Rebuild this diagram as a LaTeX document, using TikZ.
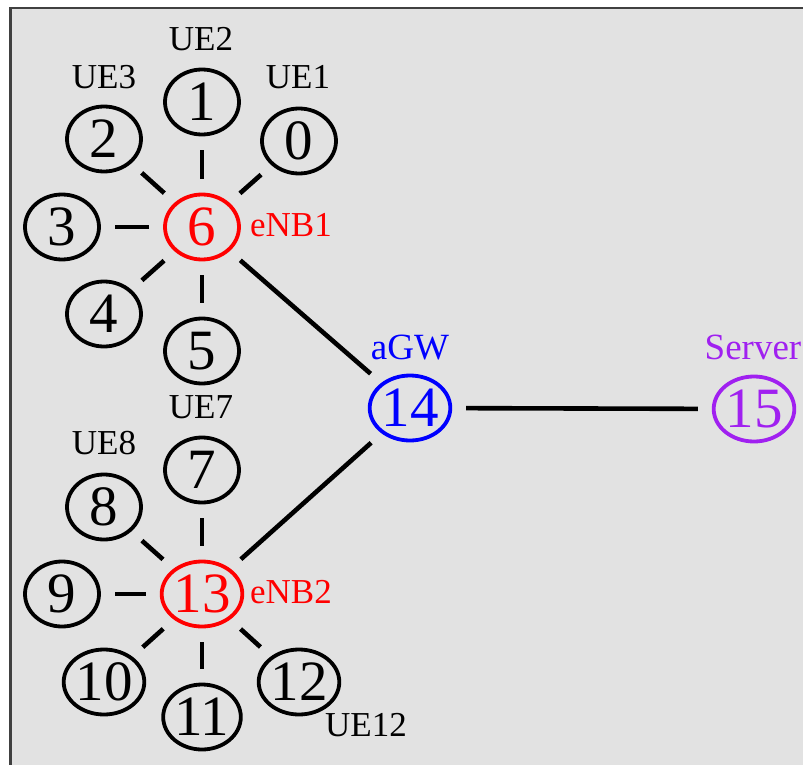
\documentclass[tikz,border=0pt]{standalone}
\usepackage{fontspec}
\setmainfont{Liberation Serif}
\usetikzlibrary{shapes.geometric}
\definecolor{bgray}{HTML}{E2E2E2}
\definecolor{framec}{HTML}{404040}
\definecolor{xpurple}{HTML}{A020F0}
\tikzset{
  nd/.style={ellipse, draw, line width=1.9pt, minimum width=37pt, minimum height=32.5pt,
    inner sep=0pt, font=\fontsize{28.5}{30}\selectfont},
  ue/.style={nd, draw=black, text=black},
  enb/.style={nd, draw=red, text=red},
  gw/.style={nd, draw=blue, text=blue},
  srv/.style={nd, draw=xpurple, text=xpurple},
  lbl/.style={inner sep=0pt, font=\fontsize{17.5}{19}\selectfont},
  wlbl/.style={inner sep=0pt, font=\fontsize{18.5}{20}\selectfont},
  lnk/.style={line width=2.3pt, shorten >=7pt, shorten <=7pt},
}
\begin{document}
\begin{tikzpicture}[x=0.5pt, y=-0.5pt]
\useasboundingbox (0,0) rectangle (803,765);
\fill[white] (0,0) rectangle (803,765);
\fill[bgray] (10.5,8) rectangle (820,780);
\draw[framec, line width=1.1pt] (10.5,780) -- (10.5,8) -- (820,8);
% eNB1 cell
\node[enb] (n6) at (202,227) {6};
\node[ue] (n0) at (299,141) {0};
\node[ue] (n1) at (202,102) {1};
\node[ue] (n2) at (104,139) {2};
\node[ue] (n3) at (62,227) {3};
\node[ue] (n4) at (104,314) {4};
\node[ue] (n5) at (202,351) {5};
% eNB2 cell
\node[enb] (n13) at (202,594) {13};
\node[ue] (n7) at (202,470) {7};
\node[ue] (n8) at (104,507) {8};
\node[ue] (n9) at (62,594) {9};
\node[ue] (n10) at (104,682) {10};
\node[ue] (n11) at (202,717) {11};
\node[ue] (n12) at (299,682) {12};
% core
\node[gw] (n14) at (410,408) {14};
\node[srv] (n15) at (754,409) {15};
% labels
\node[lbl] (l2) at (201,39) {UE2};
\node[lbl] (l3) at (104,77) {UE3};
\node[lbl] (l1) at (298,77) {UE1};
\node[lbl, text=red] (le1) at (291,225) {eNB1};
\node[lbl] (l7) at (201,407) {UE7};
\node[lbl] (l8) at (104,443) {UE8};
\node[lbl, text=red] (le2) at (291,592) {eNB2};
\node[lbl] (l12) at (366,725) {UE12};
\node[wlbl, text=blue] (lgw) at (410,348) {aGW};
\node[wlbl, text=xpurple] (lsrv) at (753,347) {Server};
% links
\foreach \u in {0,1,2,3,4,5} \draw[lnk] (n6) -- (n\u);
\foreach \u in {7,8,9,10,11,12} \draw[lnk] (n13) -- (n\u);
\draw[lnk] (n6) -- (n14);
\draw[lnk] (n13) -- (n14);
\draw[lnk] (n14) -- (n15);
\end{tikzpicture}
\end{document}
